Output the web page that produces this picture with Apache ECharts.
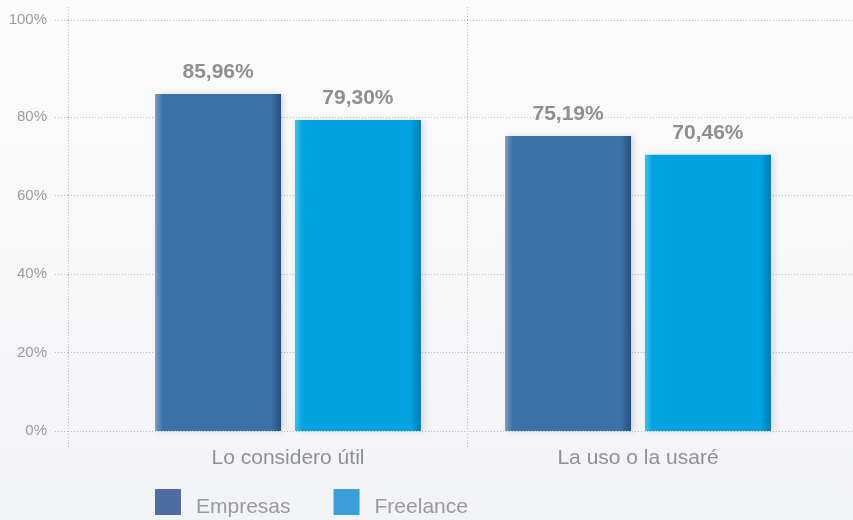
<!DOCTYPE html>
<html>
<head>
<meta charset="utf-8">
<script src="https://cdn.jsdelivr.net/npm/echarts@6/dist/echarts.min.js"></script>
<style>
  html, body { margin: 0; padding: 0; }
  #chart { width: 853px; height: 520px; }
</style>
</head>
<body>
<div id="chart"></div>
<script>
// datos
const categories = ['Lo considero útil', 'La uso o la usaré'];
const empresas = [85.96, 75.19];
const freelance = [79.30, 70.46];
// la línea superior del gráfico original está rotulada 100%
const tickValues = [0, 20, 40, 60, 80, 104.8];
const tickLabels = ['0%', '20%', '40%', '60%', '80%', '100%'];

const font = 'Liberation Sans, Arial, sans-serif';
const dotted = { color: '#b9bcc0', width: 1, type: [1, 2] };

function barColor(light, main, dark) {
    return new echarts.graphic.LinearGradient(0, 0, 1, 0, [
        { offset: 0, color: light },
        { offset: 0.06, color: main },
        { offset: 0.92, color: main },
        { offset: 1, color: dark }
    ]);
}

function pct(p) {
    return p.value.toFixed(2).replace('.', ',') + '%';
}

const chart = echarts.init(document.getElementById('chart'));
chart.setOption({
    backgroundColor: new echarts.graphic.LinearGradient(0, 0, 0, 1, [
        { offset: 0, color: '#fcfcfc' },
        { offset: 1, color: '#f2f3f5' }
    ]),
    animation: false,
    textStyle: { fontFamily: font },
    grid: [
        // rejilla de fondo
        { left: 68, width: 798, top: 20, bottom: 89, outerBoundsMode: 'none' },
        // barras
        { left: 113, width: 700, top: 20, bottom: 89, outerBoundsMode: 'none' }
    ],
    legend: {
        left: 155,
        top: 489,
        padding: 0,
        itemWidth: 26,
        itemHeight: 26,
        itemGap: 43,
        icon: 'rect',
        formatter: name => '{t|' + name + '}',
        textStyle: {
            fontSize: 21, color: '#999a9c', fontFamily: font,
            rich: { t: { fontSize: 21, color: '#999a9c', fontFamily: font, padding: [10, 0, 0, 10] } }
        },
        data: [
            { name: 'Empresas', itemStyle: { color: '#4e6ea3' } },
            { name: 'Freelance', itemStyle: { color: '#3a9edb' } }
        ]
    },
    xAxis: [
        {
            type: 'category', gridIndex: 0, data: categories,
            axisLine: { show: false },
            axisLabel: { show: false },
            axisTick: { show: true, length: 17, lineStyle: dotted },
            splitLine: { show: true, lineStyle: dotted }
        },
        {
            type: 'category', gridIndex: 0, position: 'top', data: categories,
            axisLine: { show: false },
            axisLabel: { show: false },
            axisTick: { show: true, length: 13, lineStyle: dotted }
        },
        {
            type: 'category', gridIndex: 1, data: categories,
            axisLine: { show: false },
            axisTick: { show: false },
            axisLabel: { fontSize: 21, color: '#8f9092', margin: 17 }
        }
    ],
    yAxis: [
        {
            type: 'value', gridIndex: 0, min: 0, max: 104.8,
            axisLine: { show: false },
            axisTick: { show: true, length: 13, lineStyle: dotted, customValues: tickValues },
            axisLabel: {
                customValues: tickValues,
                fontSize: 15, color: '#9a9b9d', margin: 21,
                formatter: v => tickLabels[tickValues.indexOf(v)]
            },
            splitLine: { show: true, lineStyle: dotted }
        },
        {
            type: 'value', gridIndex: 1, min: 0, max: 104.8, show: false,
            splitLine: { show: false }
        }
    ],
    series: [
        {
            name: 'Empresas', type: 'bar', xAxisIndex: 2, yAxisIndex: 1,
            data: empresas, barWidth: 126, barGap: '11%',
            itemStyle: {
                color: barColor('#7b9cc4', '#3a72a8', '#27507c'),
                shadowColor: 'rgba(0,0,0,0.12)', shadowBlur: 6, shadowOffsetX: 3
            },
            label: { show: true, position: 'top', distance: 11, fontSize: 21, fontWeight: 'bold', color: '#8e8f91', formatter: pct }
        },
        {
            name: 'Freelance', type: 'bar', xAxisIndex: 2, yAxisIndex: 1,
            data: freelance, barWidth: 126,
            itemStyle: {
                color: barColor('#3cc3f0', '#00a3e0', '#007aae'),
                shadowColor: 'rgba(0,0,0,0.12)', shadowBlur: 6, shadowOffsetX: 3
            },
            label: { show: true, position: 'top', distance: 11, fontSize: 21, fontWeight: 'bold', color: '#8e8f91', formatter: pct }
        }
    ]
});
</script>
</body>
</html>
